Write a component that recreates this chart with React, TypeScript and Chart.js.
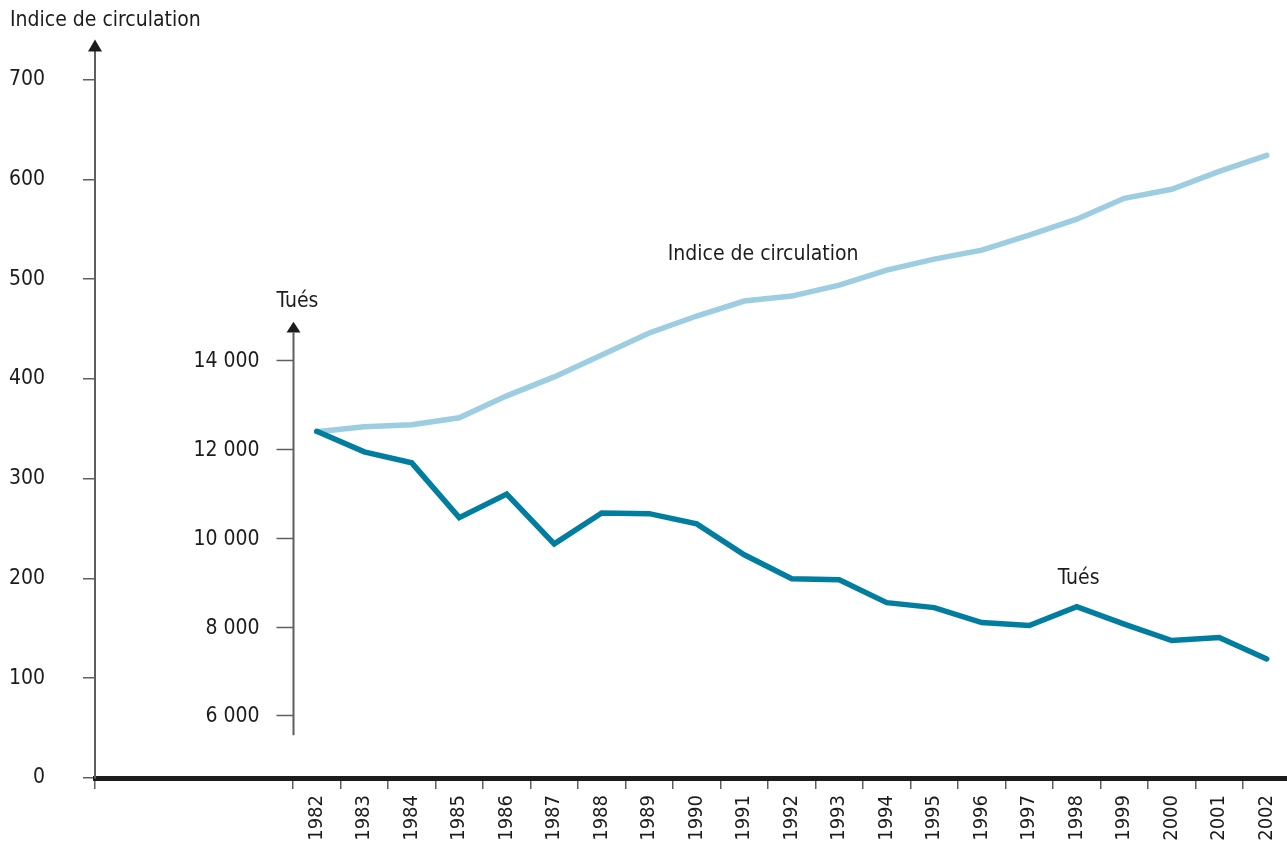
import React, { useEffect, useRef } from 'react';
import { Chart, registerables } from 'chart.js';

Chart.register(...registerables);

// ---- data ----
const YEARS = [1982, 1983, 1984, 1985, 1986, 1987, 1988, 1989, 1990, 1991, 1992, 1993, 1994, 1995, 1996, 1997, 1998, 1999, 2000, 2001, 2002];
const INDICE = [347, 352, 354, 361, 383, 402, 424, 446, 463, 478, 483, 494, 509, 520, 529, 544, 560, 581, 590, 608, 624];
const TUES = [12404, 11939, 11692, 10456, 10989, 9865, 10562, 10546, 10314, 9618, 9079, 9056, 8539, 8427, 8090, 8022, 8449, 8056, 7685, 7753, 7270];
const INDICE_TICKS = [0, 100, 200, 300, 400, 500, 600, 700];
const TUES_TICKS = [6000, 8000, 10000, 12000, 14000];

const LABEL_INDICE = 'Indice de circulation';
const LABEL_TUES = 'Tués';

// ---- styling / ranges ----
const X_MIN = 1977.332;
const X_MAX = 2002.427;
const Y_MAX = 729;
const Y2_MIN = 4584.3;
const Y2_MAX = 20988.8;
const TUES_AXIS_FROM = 5550;
const TUES_AXIS_TO = 14629;
const TUES_AXIS_TIP = 14876;

const FONT_FAMILY = '"Liberation Sans Narrow", "Arial Narrow", "DejaVu Sans Condensed", sans-serif';
const FONT_SIZE = 21;
const TEXT = '#1e1b1c';
const AXIS_GREY = '#5f5f5f';
const DARK = '#007d9f';
const LIGHT = '#9dcde0';

const fmtThousands = (v: number) => {
  const s = String(Math.round(v));
  return s.replace(/\B(?=(\d{3})+(?!\d))/g, ' ');
};

const overlay = {
  id: 'overlay',
  beforeDatasetsDraw(chart: any) {
    const { ctx } = chart;
    const x = chart.scales.x;
    const y2 = chart.scales.y2;
    const ax = Math.round(x.getPixelForValue(YEARS[0] - 0.5)) + 0.5;
    ctx.save();
    ctx.strokeStyle = AXIS_GREY;
    ctx.lineWidth = 2;
    ctx.beginPath();
    ctx.moveTo(ax, y2.getPixelForValue(TUES_AXIS_FROM));
    ctx.lineTo(ax, y2.getPixelForValue(TUES_AXIS_TO));
    ctx.stroke();
    // ticks
    ctx.lineWidth = 1.5;
    ctx.font = `${FONT_SIZE}px ${FONT_FAMILY}`;
    ctx.fillStyle = TEXT;
    ctx.textAlign = 'right';
    ctx.textBaseline = 'middle';
    TUES_TICKS.forEach((t) => {
      const py = Math.round(y2.getPixelForValue(t)) + 0.5;
      ctx.beginPath();
      ctx.moveTo(ax - 17, py);
      ctx.lineTo(ax, py);
      ctx.stroke();
      ctx.fillText(fmtThousands(t), ax - 34, py + 1);
    });
    // arrow
    const base = y2.getPixelForValue(TUES_AXIS_TO);
    const tip = y2.getPixelForValue(TUES_AXIS_TIP);
    ctx.fillStyle = TEXT;
    ctx.beginPath();
    ctx.moveTo(ax, tip);
    ctx.lineTo(ax - 7, base);
    ctx.lineTo(ax + 7, base);
    ctx.closePath();
    ctx.fill();
    // title
    ctx.textAlign = 'center';
    ctx.textBaseline = 'middle';
    ctx.fillText(LABEL_TUES, ax + 4, tip - 20);
    ctx.restore();
  },
  afterDraw(chart: any) {
    const { ctx, chartArea } = chart;
    const x = chart.scales.x;
    const y = chart.scales.y;
    ctx.save();
    // left axis arrow
    const lx = chartArea.left;
    ctx.fillStyle = TEXT;
    ctx.beginPath();
    ctx.moveTo(lx, chartArea.top - 11);
    ctx.lineTo(lx - 7, chartArea.top + 1);
    ctx.lineTo(lx + 7, chartArea.top + 1);
    ctx.closePath();
    ctx.fill();
    ctx.font = `${FONT_SIZE}px ${FONT_FAMILY}`;
    ctx.textBaseline = 'middle';
    ctx.textAlign = 'left';
    ctx.fillText(LABEL_INDICE, 10, chartArea.top - 30);
    // series annotations
    ctx.fillText(LABEL_INDICE, x.getPixelForValue(1989.39), y.getPixelForValue(525));
    ctx.fillText(LABEL_TUES, x.getPixelForValue(1997.6), y.getPixelForValue(200));
    ctx.restore();
  },
};

export default function App() {
  const ref = useRef<HTMLCanvasElement | null>(null);

  useEffect(() => {
    if (!ref.current) return;
    const chart = new Chart(ref.current, {
      type: 'line',
      data: {
        datasets: [
          {
            label: LABEL_TUES,
            data: YEARS.map((yr, i) => ({ x: yr, y: TUES[i] })),
            yAxisID: 'y2',
            borderColor: DARK,
            borderWidth: 5.5,
            pointRadius: 0,
            borderCapStyle: 'round',
            borderJoinStyle: 'miter',
            tension: 0,
          },
          {
            label: LABEL_INDICE,
            data: YEARS.map((yr, i) => ({ x: yr, y: INDICE[i] })),
            yAxisID: 'y',
            borderColor: LIGHT,
            borderWidth: 5.5,
            pointRadius: 0,
            borderCapStyle: 'round',
            borderJoinStyle: 'miter',
            tension: 0,
          },
        ],
      },
      options: {
        responsive: false,
        animation: false,
        devicePixelRatio: 1,
        layout: { padding: { top: 48, left: 0, right: 0, bottom: 0 } },
        plugins: {
          legend: { display: false },
          tooltip: { enabled: false },
          title: { display: false },
        },
        scales: {
          x: {
            type: 'linear',
            position: 'bottom',
            min: X_MIN,
            max: X_MAX,
            afterFit: (s: any) => {
              s.height = 67;
            },
            afterBuildTicks: (s: any) => {
              s.ticks = [X_MIN, ...YEARS.map((yr) => yr - 0.5)].map((v) => ({ value: v }));
            },
            ticks: {
              autoSkip: false,
              minRotation: 90,
              maxRotation: 90,
              labelOffset: 23.75,
              padding: 6,
              color: TEXT,
              font: { family: FONT_FAMILY, size: 20 },
              callback: (v: any) => (v === X_MIN ? '' : String(Math.round(Number(v) + 0.5))),
            },
            grid: {
              display: true,
              drawOnChartArea: false,
              drawTicks: true,
              tickLength: 11,
              color: AXIS_GREY,
              lineWidth: 1.5,
            },
            border: { display: true, color: TEXT, width: 5 },
          },
          y: {
            type: 'linear',
            position: 'left',
            min: 0,
            max: Y_MAX,
            afterFit: (s: any) => {
              s.width = 95;
            },
            afterBuildTicks: (s: any) => {
              s.ticks = INDICE_TICKS.map((v) => ({ value: v }));
            },
            ticks: {
              padding: 38,
              color: TEXT,
              font: { family: FONT_FAMILY, size: FONT_SIZE },
              callback: (v: any) => String(v),
            },
            grid: {
              display: true,
              drawOnChartArea: false,
              drawTicks: true,
              tickLength: 12,
              color: AXIS_GREY,
              lineWidth: 1.5,
            },
            border: { display: true, color: AXIS_GREY, width: 2 },
          },
          y2: {
            type: 'linear',
            display: false,
            min: Y2_MIN,
            max: Y2_MAX,
          },
        },
      },
      plugins: [overlay],
    } as any);
    return () => chart.destroy();
  }, []);

  return (
    <div style={{ position: 'fixed', left: 0, top: 0, width: 1287, height: 845, background: '#fff' }}>
      <canvas ref={ref} width={1287} height={845} style={{ display: 'block' }} />
    </div>
  );
}
